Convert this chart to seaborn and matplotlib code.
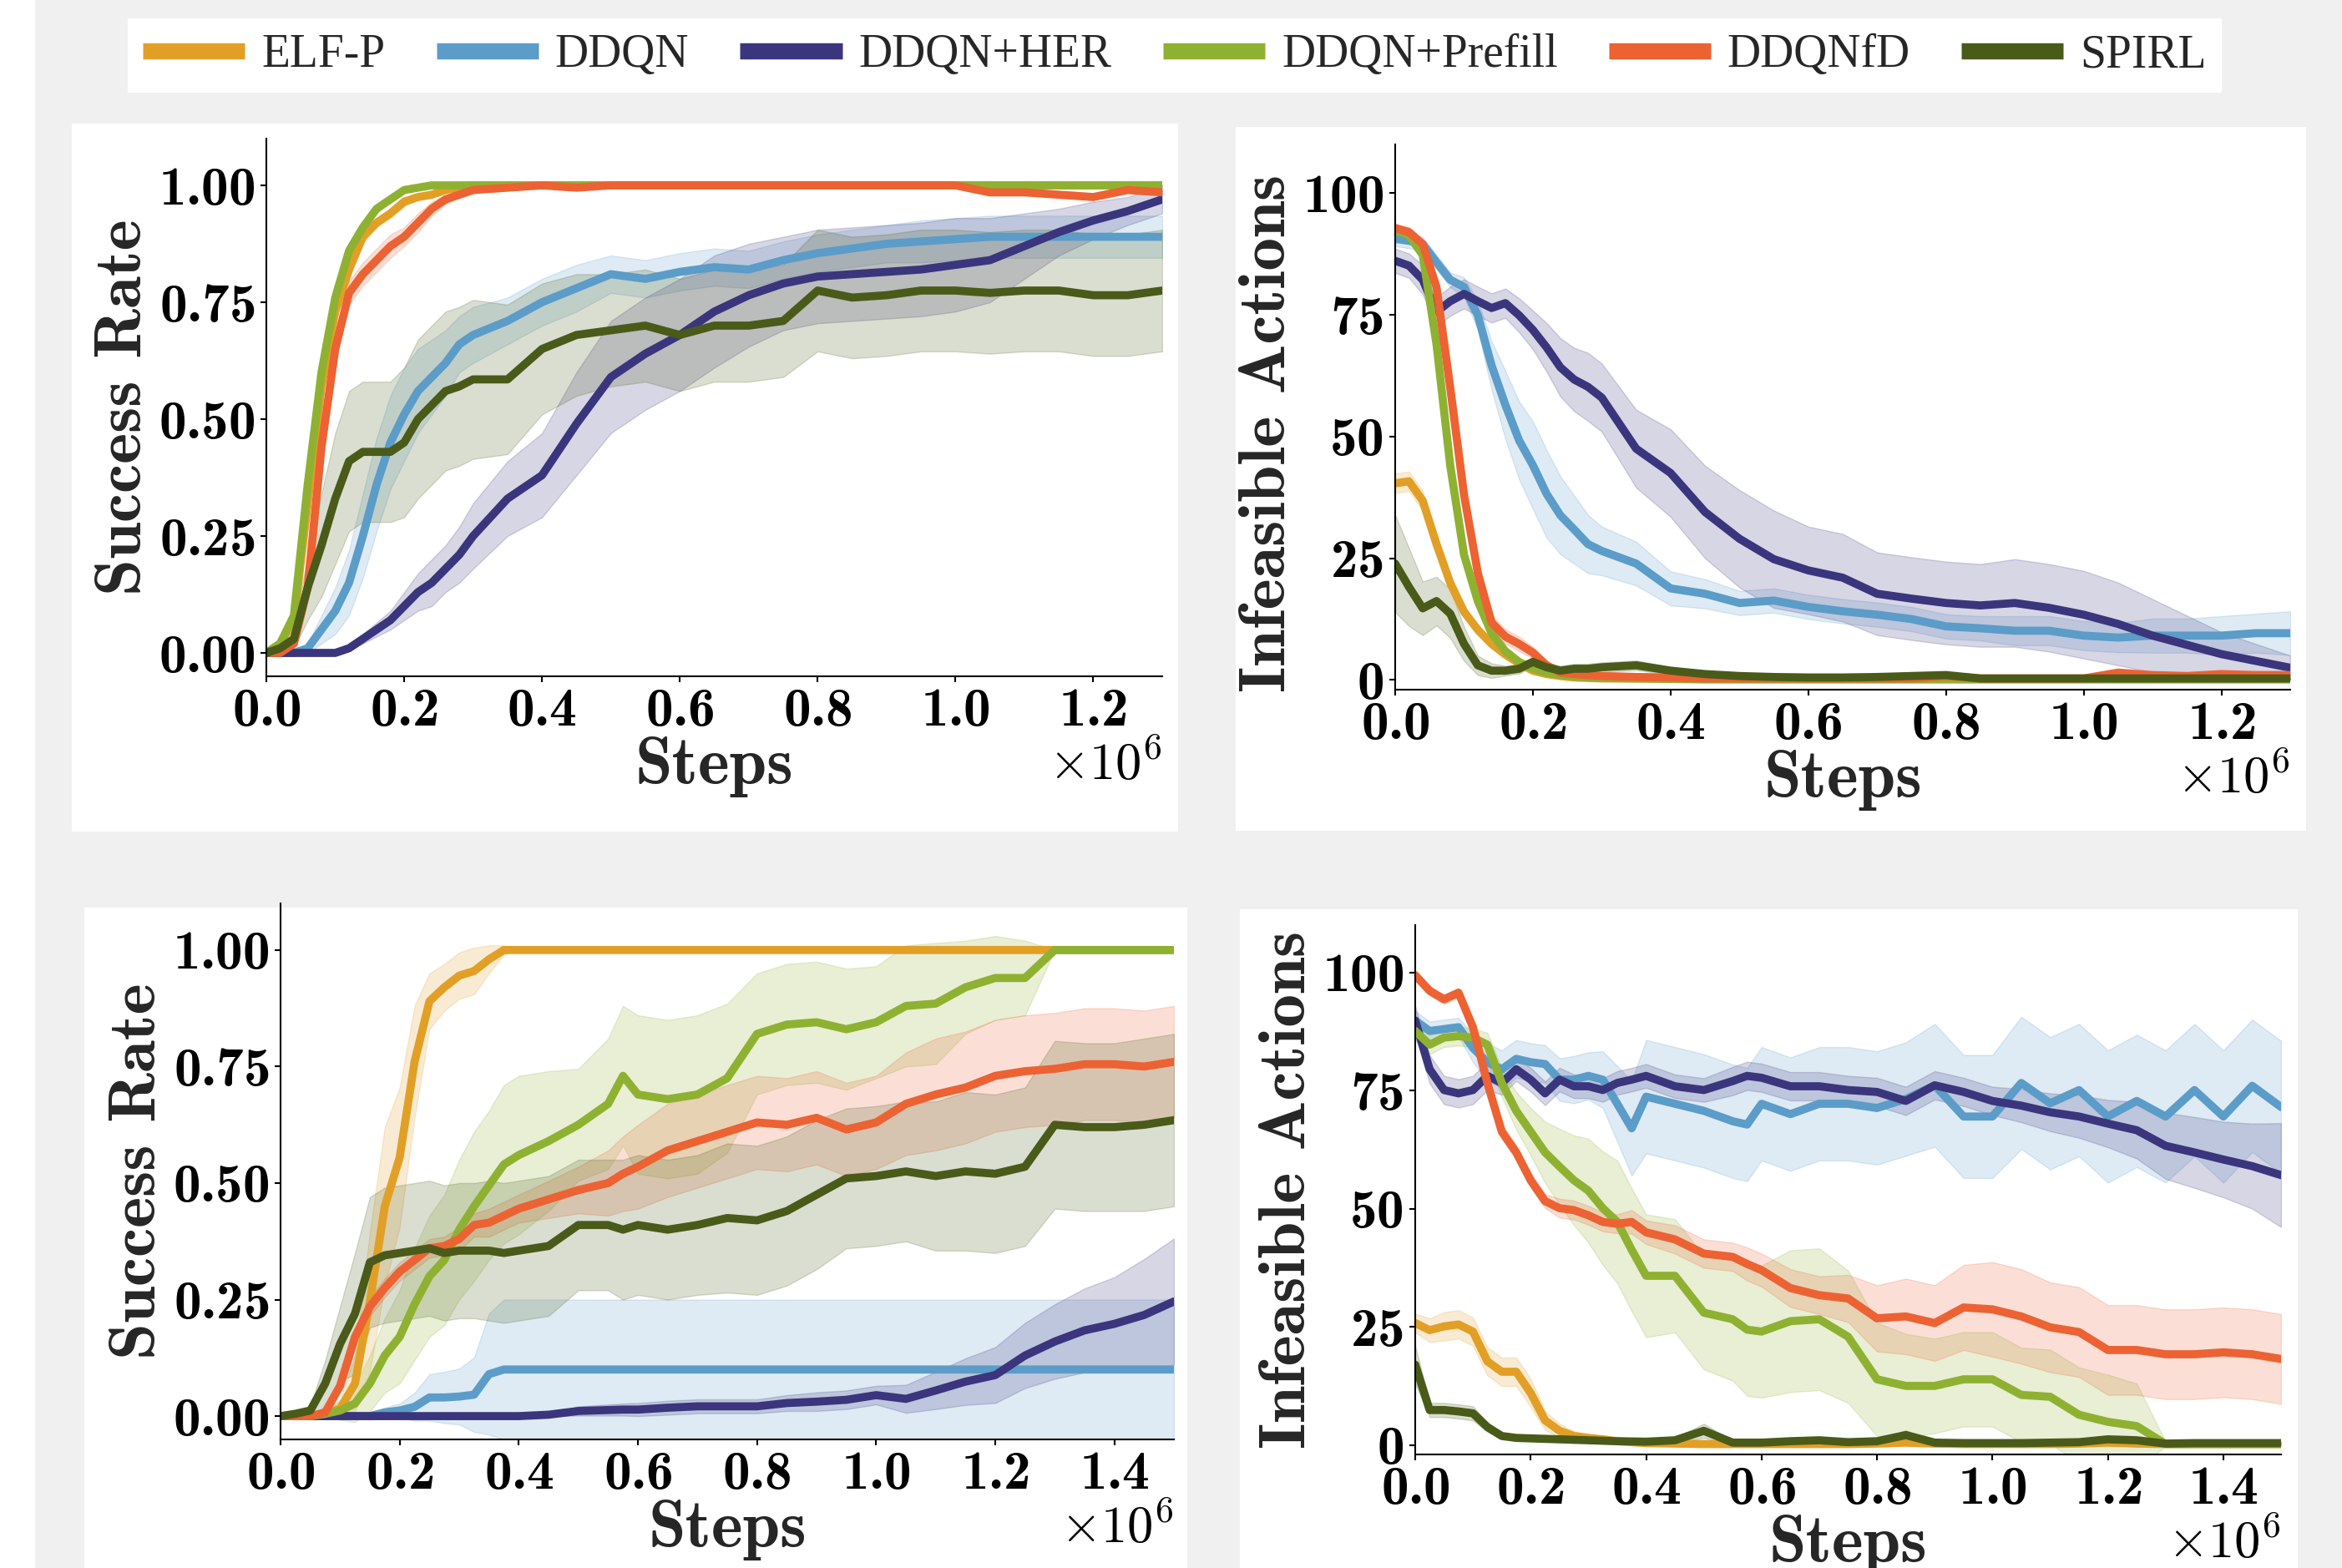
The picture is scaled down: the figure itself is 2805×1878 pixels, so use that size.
import numpy as np
import matplotlib
matplotlib.use('Agg')
import matplotlib.pyplot as plt
from matplotlib.lines import Line2D
from matplotlib.patches import Rectangle
import seaborn as sns

# %% data (steps in units of 1e6)
methods = ['ELF-P', 'DDQN', 'DDQN+HER', 'DDQN+Prefill', 'DDQNfD', 'SPIRL']
palette = ['#e29f26', '#5b9cc8', '#3a357c', '#8fb131', '#ec6233', '#4a5a19']

steps_top = [0, .02, .04, .06, .08, .10, .12, .14, .16, .18, .20, .22, .24, .26, .28, .30,
             .35, .40, .45, .50, .55, .60, .65, .70, .75, .80, .85, .90, .95, 1.0, 1.05, 1.1, 1.15, 1.2, 1.25, 1.3]
steps_bot = [0, .025, .05, .075, .1, .125, .15, .175, .2, .225, .25, .275, .3, .325, .35, .375, .4,
             .45, .5, .55, .575, .6, .65, .7, .75, .8, .85, .9, .95, 1.0, 1.05, 1.1, 1.15, 1.2, 1.25, 1.3, 1.35, 1.4, 1.45, 1.5]

# top left - success rate
tl_elf = [0.0, 0.02, 0.07, 0.32, 0.57, 0.73, 0.82, 0.89, 0.92, 0.94, 0.965, 0.975, 0.98, 0.99, 0.995, 1.0,
          1.0, 1.0, 1.0, 1.0, 1.0, 1.0, 1.0, 1.0, 1.0, 1.0, 1.0, 1.0, 1.0, 1.0, 1.0, 1.0, 1.0, 1.0, 1.0, 1.0]
tl_elf_sd = [0, 0.005, 0.01, 0.02, 0.02, 0.02, 0.02, 0.015, 0.01, 0.01, 0.01, 0.005, 0.005, 0.003, 0.002, 0,
             0, 0, 0, 0, 0, 0, 0, 0, 0, 0, 0, 0, 0, 0, 0, 0, 0, 0, 0, 0]
tl_ddqn = [0.0, 0.0, 0.0, 0.01, 0.05, 0.09, 0.15, 0.25, 0.36, 0.45, 0.51, 0.56, 0.59, 0.62, 0.66, 0.68,
           0.71, 0.75, 0.78, 0.81, 0.80, 0.815, 0.825, 0.82, 0.84, 0.855, 0.865, 0.875, 0.88, 0.885, 0.89, 0.89, 0.89, 0.89, 0.89, 0.89]
tl_ddqn_sd = [0, 0, 0.005, 0.01, 0.03, 0.05, 0.07, 0.09, 0.10, 0.10, 0.10, 0.09, 0.08, 0.07, 0.06, 0.06,
              0.05, 0.05, 0.05, 0.04, 0.04, 0.04, 0.04, 0.04, 0.04, 0.04, 0.04, 0.04, 0.045, 0.045, 0.045, 0.045, 0.045, 0.045, 0.045, 0.045]
tl_her = [0, 0, 0, 0, 0, 0, 0.01, 0.03, 0.05, 0.07, 0.10, 0.13, 0.15, 0.18, 0.21, 0.25,
          0.33, 0.38, 0.49, 0.59, 0.64, 0.68, 0.73, 0.765, 0.79, 0.805, 0.81, 0.815, 0.82, 0.83, 0.84, 0.87, 0.90, 0.925, 0.945, 0.97]
tl_her_sd = [0, 0, 0, 0, 0, 0.003, 0.005, 0.01, 0.015, 0.02, 0.03, 0.04, 0.05, 0.05, 0.06, 0.07,
             0.08, 0.09, 0.11, 0.12, 0.12, 0.12, 0.12, 0.11, 0.10, 0.10, 0.10, 0.10, 0.10, 0.10, 0.09, 0.07, 0.05, 0.04, 0.03, 0.03]
tl_prefill = [0.0, 0.02, 0.08, 0.36, 0.60, 0.76, 0.86, 0.91, 0.95, 0.97, 0.99, 0.995, 1.0, 1.0, 1.0, 1.0,
              1.0, 1.0, 1.0, 1.0, 1.0, 1.0, 1.0, 1.0, 1.0, 1.0, 1.0, 1.0, 1.0, 1.0, 1.0, 1.0, 1.0, 1.0, 1.0, 1.0]
tl_prefill_sd = [0, 0.005, 0.01, 0.02, 0.02, 0.02, 0.015, 0.01, 0.01, 0.005, 0.003, 0, 0, 0, 0, 0,
                 0, 0, 0, 0, 0, 0, 0, 0, 0, 0, 0, 0, 0, 0, 0, 0, 0, 0, 0, 0]
tl_dqfd = [0.0, 0.0, 0.02, 0.14, 0.44, 0.65, 0.77, 0.81, 0.84, 0.87, 0.89, 0.92, 0.95, 0.97, 0.98, 0.99,
           0.995, 1.0, 0.995, 1.0, 1.0, 1.0, 1.0, 1.0, 1.0, 1.0, 1.0, 1.0, 1.0, 1.0, 0.985, 0.985, 0.98, 0.975, 0.99, 0.985]
tl_dqfd_sd = [0, 0, 0.005, 0.015, 0.02, 0.02, 0.025, 0.025, 0.025, 0.025, 0.02, 0.02, 0.015, 0.01, 0.005, 0.003,
              0, 0, 0, 0, 0, 0, 0, 0, 0, 0, 0, 0, 0, 0, 0.005, 0.005, 0.005, 0.005, 0.005, 0.005]
tl_spirl = [0.0, 0.01, 0.03, 0.14, 0.23, 0.33, 0.41, 0.43, 0.43, 0.43, 0.45, 0.50, 0.53, 0.56, 0.57, 0.585,
            0.585, 0.65, 0.68, 0.69, 0.70, 0.68, 0.70, 0.70, 0.71, 0.775, 0.76, 0.765, 0.775, 0.775, 0.77, 0.775, 0.775, 0.765, 0.765, 0.775]
tl_spirl_sd = [0, 0.005, 0.02, 0.07, 0.11, 0.14, 0.15, 0.15, 0.15, 0.15, 0.16, 0.17, 0.17, 0.17, 0.17, 0.17,
               0.16, 0.14, 0.13, 0.12, 0.12, 0.12, 0.12, 0.12, 0.12, 0.13, 0.13, 0.13, 0.13, 0.13, 0.13, 0.13, 0.13, 0.13, 0.13, 0.13]

# top right - infeasible actions
tr_elf = [40.4, 40.8, 36.8, 27.9, 19.9, 14.0, 10.3, 7.4, 5.2, 3.4, 1.9, 1.2, 0.8, 0.5, 0.4, 0.3,
          0.3, 0.2, 0.2, 0.2, 0.2, 0.2, 0.2, 0.2, 0.2, 0.2, 0.2, 0.2, 0.2, 0.2, 0.2, 0.2, 0.2, 0.2, 0.2, 0.2]
tr_elf_sd = [2.0, 2.0, 2.0, 1.5, 1.5, 1.2, 1.0, 0.8, 0.6, 0.5, 0.4, 0.3, 0.2, 0.2, 0.1, 0.1,
             0.1, 0.1, 0.1, 0.1, 0.1, 0.1, 0.1, 0.1, 0.1, 0.1, 0.1, 0.1, 0.1, 0.1, 0.1, 0.1, 0.1, 0.1, 0.1, 0.1]
tr_ddqn = [90.6, 90.2, 89.5, 85.8, 82.2, 80.7, 74.9, 64.6, 56.5, 49.2, 44.1, 38.2, 33.8, 30.9, 27.9, 26.5,
           23.9, 18.8, 17.7, 15.8, 16.3, 15.0, 14.1, 13.4, 12.5, 11.0, 10.6, 10.1, 10.1, 9.1, 8.7, 9.1, 9.1, 9.1, 9.6, 9.6]
tr_ddqn_sd = [1.5, 1.5, 1.5, 1.5, 1.5, 2.0, 3.0, 5.0, 7.0, 8.0, 9.0, 9.0, 8.0, 7.0, 6.0, 5.0,
              4.5, 3.5, 3.0, 2.5, 2.5, 2.5, 2.5, 2.5, 2.5, 2.5, 2.5, 3.0, 3.0, 3.0, 3.0, 3.5, 3.5, 4.0, 4.0, 4.5]
tr_her = [86.1, 85.1, 82.2, 75.6, 77.8, 79.3, 77.8, 76.4, 77.4, 74.9, 71.9, 68.3, 64.2, 61.7, 60.2, 58.0,
          47.5, 42.5, 34.5, 29.0, 24.8, 22.5, 21.0, 17.7, 16.7, 15.8, 15.3, 15.8, 14.8, 13.4, 11.5, 9.1, 7.2, 5.3, 3.9, 2.5]
tr_her_sd = [2.5, 2.5, 3.0, 3.0, 3.0, 3.0, 3.0, 3.0, 3.0, 3.5, 4.0, 5.0, 6.0, 6.5, 7.0, 7.0,
             8.0, 9.0, 9.5, 10.0, 10.0, 9.0, 9.0, 8.5, 8.5, 8.5, 8.5, 9.0, 9.0, 9.0, 8.5, 7.5, 6.0, 4.5, 3.5, 2.5]
tr_prefill = [92.4, 91.3, 87.3, 69.0, 44.0, 25.7, 16.2, 9.6, 5.9, 3.7, 2.3, 1.5, 1.0, 0.7, 0.5, 0.4,
              0.3, 0.2, 0.1, 0.1, 0.1, 0.1, 0.1, 0.1, 0.1, 0.1, 0.1, 0.1, 0.1, 0.1, 0.1, 0.1, 0.1, 0.1, 0.1, 0.1]
tr_prefill_sd = [1.0, 1.0, 1.5, 2.0, 2.0, 1.5, 1.2, 1.0, 0.8, 0.6, 0.5, 0.4, 0.3, 0.2, 0.2, 0.1,
                 0.1, 0.1, 0.1, 0.1, 0.1, 0.1, 0.1, 0.1, 0.1, 0.1, 0.1, 0.1, 0.1, 0.1, 0.1, 0.1, 0.1, 0.1, 0.1, 0.1]
tr_dqfd = [92.8, 92.0, 89.5, 80.7, 60.0, 38.0, 22.0, 11.8, 8.9, 7.4, 5.6, 3.0, 1.5, 1.2, 1.0, 0.8,
           0.6, 0.5, 0.3, 0.3, 0.3, 0.3, 0.3, 0.3, 0.3, 0.8, 0.3, 0.3, 0.3, 0.3, 1.5, 1.0, 0.8, 1.2, 1.0, 1.0]
tr_dqfd_sd = [1.0, 1.0, 1.0, 1.5, 2.0, 2.0, 2.0, 1.5, 1.5, 1.5, 1.2, 1.0, 0.6, 0.5, 0.4, 0.3,
              0.2, 0.2, 0.2, 0.2, 0.2, 0.2, 0.2, 0.2, 0.2, 0.2, 0.2, 0.2, 0.2, 0.2, 0.2, 0.2, 0.2, 0.2, 0.2, 0.2]
tr_spirl = [23.9, 19.1, 14.7, 16.2, 13.6, 7.4, 3.0, 1.9, 1.9, 2.3, 3.7, 2.6, 1.9, 2.3, 2.3, 2.6,
            3.0, 1.9, 1.2, 0.8, 0.6, 0.5, 0.5, 0.6, 0.8, 1.0, 0.3, 0.3, 0.3, 0.3, 0.3, 0.3, 0.3, 0.3, 0.3, 0.3]
tr_spirl_sd = [10.0, 8.0, 5.5, 5.0, 5.0, 3.5, 2.0, 1.5, 1.0, 1.0, 1.0, 1.0, 1.0, 1.0, 1.0, 1.0,
               1.0, 0.8, 0.5, 0.3, 0.3, 0.3, 0.3, 0.3, 0.5, 0.5, 0.2, 0.2, 0.2, 0.2, 0.2, 0.2, 0.2, 0.2, 0.2, 0.2]

# bottom left - success rate
bl_elf = [0, 0, 0, 0.005, 0.016, 0.07, 0.245, 0.45, 0.555, 0.76, 0.89, 0.92, 0.945, 0.955, 0.98, 1.0, 1.0,
          1.0, 1.0, 1.0, 1.0, 1.0, 1.0, 1.0, 1.0, 1.0, 1.0, 1.0, 1.0, 1.0, 1.0, 1.0, 1.0, 1.0, 1.0, 1.0, 1.0, 1.0, 1.0, 1.0]
bl_elf_sd = [0, 0, 0, 0.005, 0.02, 0.06, 0.15, 0.17, 0.15, 0.12, 0.06, 0.05, 0.05, 0.05, 0.03, 0.01, 0,
             0, 0, 0, 0, 0, 0, 0, 0, 0, 0, 0, 0, 0, 0, 0, 0, 0, 0, 0, 0, 0, 0, 0]
bl_ddqn = [0, 0, 0, 0, 0, 0, 0, 0.008, 0.012, 0.02, 0.04, 0.04, 0.042, 0.046, 0.09, 0.10, 0.10,
           0.10, 0.10, 0.10, 0.10, 0.10, 0.10, 0.10, 0.10, 0.10, 0.10, 0.10, 0.10, 0.10, 0.10, 0.10, 0.10, 0.10, 0.10, 0.10, 0.10, 0.10, 0.10, 0.10]
bl_ddqn_sd = [0, 0, 0, 0, 0.002, 0.004, 0.006, 0.01, 0.015, 0.03, 0.05, 0.055, 0.06, 0.08, 0.13, 0.15, 0.15,
              0.15, 0.15, 0.15, 0.15, 0.15, 0.15, 0.15, 0.15, 0.15, 0.15, 0.15, 0.15, 0.15, 0.15, 0.15, 0.15, 0.15, 0.15, 0.15, 0.15, 0.15, 0.15, 0.15]
bl_her = [0, 0, 0, 0, 0, 0, 0, 0, 0, 0, 0, 0, 0, 0, 0, 0, 0,
          0.003, 0.011, 0.013, 0.014, 0.014, 0.018, 0.021, 0.021, 0.021, 0.028, 0.031, 0.035, 0.045, 0.037, 0.055, 0.074, 0.088, 0.13, 0.16, 0.184, 0.198, 0.217, 0.246]
bl_her_sd = [0, 0, 0, 0, 0, 0, 0, 0, 0, 0, 0, 0, 0, 0, 0, 0, 0,
             0.003, 0.01, 0.012, 0.013, 0.014, 0.015, 0.015, 0.015, 0.015, 0.017, 0.02, 0.02, 0.02, 0.03, 0.04, 0.05, 0.06, 0.07, 0.08, 0.09, 0.10, 0.12, 0.135]
bl_prefill = [0, 0, 0, 0.005, 0.012, 0.027, 0.07, 0.13, 0.17, 0.24, 0.30, 0.335, 0.40, 0.45, 0.495, 0.54, 0.56,
              0.59, 0.625, 0.67, 0.73, 0.69, 0.68, 0.69, 0.725, 0.82, 0.84, 0.845, 0.83, 0.845, 0.88, 0.885, 0.92, 0.94, 0.94, 1.0, 1.0, 1.0, 1.0, 1.0]
bl_prefill_sd = [0, 0, 0, 0.005, 0.02, 0.04, 0.06, 0.08, 0.10, 0.12, 0.13, 0.14, 0.15, 0.16, 0.16, 0.17, 0.17,
                 0.15, 0.12, 0.14, 0.15, 0.17, 0.17, 0.17, 0.16, 0.13, 0.13, 0.13, 0.13, 0.12, 0.13, 0.13, 0.10, 0.09, 0.08, 0, 0, 0, 0, 0]
bl_dqfd = [0, 0, 0, 0.008, 0.065, 0.17, 0.235, 0.275, 0.31, 0.335, 0.36, 0.365, 0.38, 0.41, 0.415, 0.43, 0.445,
           0.465, 0.485, 0.50, 0.52, 0.535, 0.57, 0.59, 0.61, 0.63, 0.625, 0.64, 0.615, 0.63, 0.67, 0.69, 0.705, 0.73, 0.74, 0.745, 0.755, 0.755, 0.75, 0.76]
bl_dqfd_sd = [0, 0, 0, 0.005, 0.01, 0.015, 0.02, 0.02, 0.02, 0.02, 0.02, 0.02, 0.025, 0.025, 0.03, 0.03, 0.03,
              0.04, 0.05, 0.07, 0.08, 0.09, 0.10, 0.10, 0.10, 0.10, 0.10, 0.10, 0.10, 0.10, 0.11, 0.12, 0.12, 0.12, 0.12, 0.12, 0.12, 0.12, 0.12, 0.12]
bl_spirl = [0, 0.005, 0.012, 0.07, 0.155, 0.22, 0.33, 0.345, 0.35, 0.355, 0.36, 0.35, 0.355, 0.355, 0.355, 0.35, 0.355,
            0.365, 0.41, 0.41, 0.40, 0.41, 0.40, 0.41, 0.425, 0.42, 0.44, 0.475, 0.51, 0.515, 0.525, 0.515, 0.525, 0.52, 0.535, 0.625, 0.62, 0.62, 0.625, 0.635]
bl_spirl_sd = [0, 0.005, 0.01, 0.05, 0.08, 0.13, 0.14, 0.145, 0.145, 0.145, 0.145, 0.145, 0.145, 0.145, 0.15, 0.15, 0.15,
               0.15, 0.14, 0.14, 0.15, 0.15, 0.15, 0.15, 0.16, 0.16, 0.16, 0.16, 0.15, 0.15, 0.15, 0.16, 0.17, 0.17, 0.17, 0.18, 0.18, 0.18, 0.185, 0.185]

# bottom right - infeasible actions
br_elf = [25.8, 24.3, 25.1, 25.5, 24.0, 17.7, 15.5, 15.5, 11.0, 5.2, 3.0, 1.9, 1.5, 1.2, 0.8, 0.6, 0.4,
          0.3, 0.2, 0.2, 0.2, 0.2, 0.2, 0.2, 0.2, 0.3, 0.5, 0.3, 0.2, 0.2, 0.2, 0.2, 0.3, 0.5, 0.3, 0.2, 0.2, 0.2, 0.2, 0.2]
br_elf_sd = [2.0, 2.5, 3.0, 3.0, 3.0, 3.0, 3.0, 3.0, 3.0, 2.0, 1.5, 1.0, 0.8, 0.6, 0.5, 0.4, 0.3,
             0.2, 0.2, 0.2, 0.2, 0.2, 0.2, 0.2, 0.2, 0.2, 0.2, 0.2, 0.2, 0.2, 0.2, 0.2, 0.2, 0.2, 0.2, 0.2, 0.2, 0.2, 0.2, 0.2]
br_ddqn = [89.8, 87.6, 88.0, 88.4, 84.0, 81.0, 79.5, 81.7, 81.0, 80.6, 77.3, 77.3, 78.1, 77.3, 72.2, 67.0, 73.7,
           72.2, 70.7, 68.5, 67.8, 72.2, 70.0, 72.2, 72.2, 71.3, 73.2, 76.1, 69.5, 69.5, 76.6, 72.3, 75.1, 69.5, 72.8, 69.5, 75.1, 69.5, 76.0, 71.5]
br_ddqn_sd = [2, 2, 2, 2, 3, 4, 4, 4, 4, 4, 4.5, 5, 5, 6, 8, 10, 12,
              12, 12, 12, 12, 12, 12, 12, 12, 12, 12, 13, 13, 13, 14, 14, 14, 14, 14, 14, 14, 14, 14, 14]
br_her = [89.8, 79.5, 75.1, 74.4, 75.1, 78.1, 76.6, 79.5, 77.3, 74.4, 77.3, 75.9, 75.9, 75.1, 76.6, 77.3, 78.1,
          75.9, 75.1, 77.0, 78.1, 77.7, 75.9, 75.9, 75.1, 74.7, 72.8, 76.1, 74.7, 72.8, 71.8, 70.4, 69.5, 68.0, 66.6, 63.3, 61.9, 60.4, 59.0, 57.1]
br_her_sd = [3, 3, 3, 3, 3, 3, 2.5, 2.5, 2.5, 2.5, 2.5, 2.5, 2.5, 2.5, 2.5, 2.5, 2.5,
             2.5, 2.5, 3, 3, 3, 3, 3, 3, 3, 3, 3, 3, 3, 3.5, 4, 4.5, 5, 6, 7, 7.5, 8, 9, 11]
br_prefill = [87.6, 84.7, 86.2, 86.5, 86.2, 84.7, 76.6, 70.7, 66.3, 61.9, 58.9, 56.0, 53.8, 50.1, 47.2, 41.3, 35.8,
              35.8, 28.0, 26.6, 24.4, 24.0, 26.2, 26.6, 22.9, 13.9, 12.5, 12.5, 13.9, 13.9, 10.6, 10.2, 6.4, 4.9, 4.0, 0.2, 0.2, 0.2, 0.2, 0.2]
br_prefill_sd = [2, 2, 2, 2, 2, 2.5, 3, 4, 5, 6.5, 8, 9.5, 11, 12, 13, 13, 13,
                 12, 12, 13, 14, 14, 15, 15, 14, 12, 11, 10, 10, 10, 10, 10, 10, 10, 9, 0.5, 0.3, 0.3, 0.3, 0.3]
br_dqfd = [99.4, 96.1, 94.3, 95.7, 88.4, 76.6, 66.3, 61.9, 56.0, 51.6, 50.1, 49.7, 48.6, 47.2, 46.8, 47.2, 45.0,
           43.5, 40.5, 39.8, 38.3, 37.0, 33.2, 31.7, 31.0, 26.8, 27.2, 25.8, 29.1, 28.7, 27.2, 24.9, 23.9, 20.1, 20.1, 19.2, 19.2, 19.6, 19.2, 18.2]
br_dqfd_sd = [1, 1, 1, 1, 1, 1.5, 1.5, 1.5, 1.5, 1.5, 2, 2, 2, 2, 2, 2.5, 2.5,
              3, 3, 3, 3.5, 3.5, 4, 4, 5, 7, 8, 8, 9, 10, 10, 9.5, 9.5, 9.5, 9.5, 9.5, 9.5, 9.5, 9.5, 9.5]
br_spirl = [17.0, 7.4, 7.4, 7.1, 6.7, 3.8, 1.9, 1.5, 1.4, 1.3, 1.2, 1.1, 1.0, 0.9, 0.8, 0.75, 0.7,
            1.0, 3.0, 0.5, 0.5, 0.5, 0.8, 1.0, 0.6, 0.8, 2.1, 0.5, 0.4, 0.4, 0.4, 0.5, 0.6, 1.2, 1.0, 0.3, 0.4, 0.4, 0.4, 0.4]
br_spirl_sd = [4, 1.5, 1.5, 1.5, 1.5, 1, 0.6, 0.5, 0.4, 0.4, 0.4, 0.4, 0.4, 0.4, 0.4, 0.4, 0.4,
               0.6, 1.5, 0.4, 0.4, 0.4, 0.4, 0.5, 0.4, 0.5, 1.0, 0.4, 0.3, 0.3, 0.3, 0.3, 0.3, 0.6, 0.5, 0.3, 0.3, 0.3, 0.3, 0.3]

# %% style
sns.set_theme(style='ticks')
plt.rcParams['font.family'] = ['cmb10', 'DejaVu Serif']
plt.rcParams['mathtext.fontset'] = 'cm'
plt.rcParams['axes.formatter.use_mathtext'] = True
plt.rcParams['axes.unicode_minus'] = False

W, H = 2805, 1878
fig = plt.figure(figsize=(W / 100, H / 100), dpi=100, facecolor='#f0f0f0')


def px_box(x0, y0, x1, y1):
    # pixel box (top-left origin) -> figure fraction [l, b, w, h]
    return [x0 / W, 1 - y1 / H, (x1 - x0) / W, (y1 - y0) / H]


# white backgrounds of the pasted panels
for box in [(0, 0, 42, 1878), (86, 148, 1411, 996), (1480, 152, 2762, 995),
            (101, 1087, 1422, 1878), (1485, 1089, 2752, 1878)]:
    l, b, w, h = px_box(*box)
    fig.add_artist(Rectangle((l, b), w, h, transform=fig.transFigure,
                             facecolor='white', edgecolor='none', zorder=-5))


def draw_panel(ax, steps, series, ylabel, ylim, yticks, xmax, label_y=0.5):
    x = np.array(steps) * 1e6
    for (mean, sd), c in zip(series, palette):
        mean = np.array(mean, dtype=float)
        sd = np.array(sd, dtype=float)
        ax.fill_between(x, mean - sd, mean + sd, color=c, alpha=0.2, lw=1)
        sns.lineplot(x=x, y=mean, color=c, linewidth=7, ax=ax)
    ax.set_facecolor('none')
    ax.set_xlim(0, xmax * 1e6)
    ax.set_ylim(*ylim)
    ax.set_xticks(np.arange(0, xmax + 0.01, 0.2) * 1e6)
    ax.set_yticks(yticks)
    ax.tick_params(labelsize=47, length=5, width=1.5, colors='black', pad=5)
    for s in ['left', 'bottom']:
        ax.spines[s].set_linewidth(1.5)
        ax.spines[s].set_color('black')
    sns.despine(ax=ax)
    ax.set_xlabel('Steps', fontsize=58, labelpad=0)
    ax.set_ylabel(ylabel, fontsize=57, labelpad=4)
    ax.yaxis.label.set_y(label_y)
    off = ax.xaxis.get_offset_text()
    off.set_fontsize(45)
    off.set_fontfamily('cmr10')


ax_tl = fig.add_axes(px_box(319, 166, 1392, 810))
ax_tr = fig.add_axes(px_box(1671, 173, 2743, 826))
ax_bl = fig.add_axes(px_box(336, 1082, 1406, 1724))
ax_br = fig.add_axes(px_box(1695, 1108, 2732, 1742))

draw_panel(ax_tl, steps_top,
           [(tl_elf, tl_elf_sd), (tl_ddqn, tl_ddqn_sd), (tl_her, tl_her_sd),
            (tl_prefill, tl_prefill_sd), (tl_dqfd, tl_dqfd_sd), (tl_spirl, tl_spirl_sd)],
           'Success Rate', (-0.05, 1.1), [0, 0.25, 0.5, 0.75, 1.0], 1.3)
draw_panel(ax_tr, steps_top,
           [(tr_elf, tr_elf_sd), (tr_ddqn, tr_ddqn_sd), (tr_her, tr_her_sd),
            (tr_prefill, tr_prefill_sd), (tr_dqfd, tr_dqfd_sd), (tr_spirl, tr_spirl_sd)],
           'Infeasible Actions', (-2, 110), [0, 25, 50, 75, 100], 1.3, label_y=0.47)
draw_panel(ax_bl, steps_bot,
           [(bl_elf, bl_elf_sd), (bl_ddqn, bl_ddqn_sd), (bl_her, bl_her_sd),
            (bl_prefill, bl_prefill_sd), (bl_dqfd, bl_dqfd_sd), (bl_spirl, bl_spirl_sd)],
           'Success Rate', (-0.05, 1.1), [0, 0.25, 0.5, 0.75, 1.0], 1.5)
draw_panel(ax_br, steps_bot,
           [(br_elf, br_elf_sd), (br_ddqn, br_ddqn_sd), (br_her, br_her_sd),
            (br_prefill, br_prefill_sd), (br_dqfd, br_dqfd_sd), (br_spirl, br_spirl_sd)],
           'Infeasible Actions', (-2, 110), [0, 25, 50, 75, 100], 1.5)

# %% shared legend on top
handles = [Line2D([0], [0], color=c, lw=14, solid_capstyle='butt') for c in palette]
leg = fig.legend(handles, methods, loc='upper center', bbox_to_anchor=(1407 / W, 1 - 22 / H),
                 ncol=6, frameon=True, fancybox=False, framealpha=1, facecolor='white',
                 edgecolor='white', prop={'family': 'Liberation Serif', 'size': 40},
                 handlelength=2.2, handletextpad=0.36, columnspacing=1.1,
                 borderpad=0.33, borderaxespad=0)
leg.get_frame().set_linewidth(0)

fig.savefig('out.png', dpi=100, facecolor=fig.get_facecolor())
